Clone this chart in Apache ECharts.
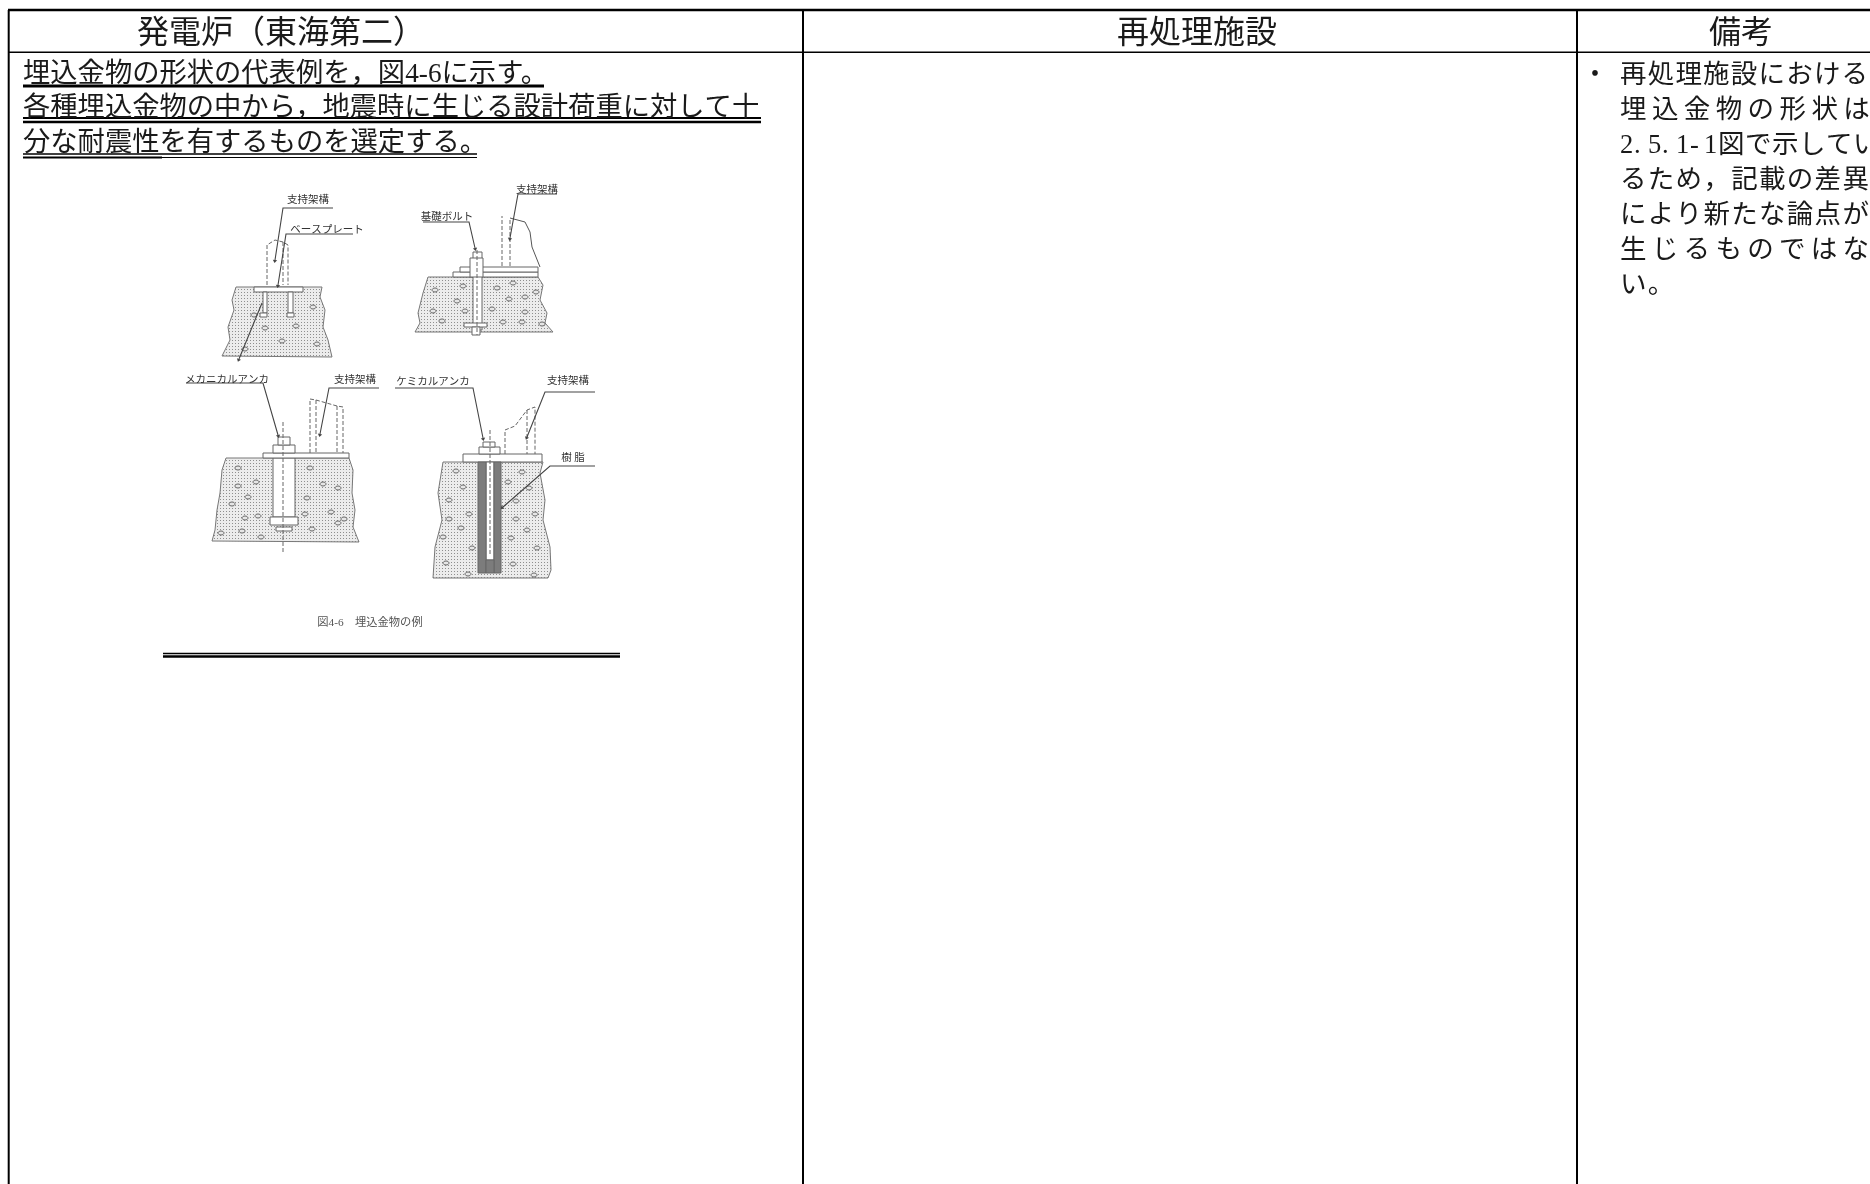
<!DOCTYPE html>
<html lang="ja">
<head>
<meta charset="utf-8">
<title>埋込金物の形状</title>
<script src="https://cdn.jsdelivr.net/npm/echarts@6/dist/echarts.min.js"></script>
<style>
html,body{margin:0;padding:0;background:#fff;overflow:hidden}
#table,#figure{position:absolute;left:0;top:0;width:1870px;height:1184px}
#figure{filter:blur(.6px);pointer-events:none}
</style>
</head>
<body>
<div id="table"></div>
<div id="figure"></div>
<script>
// ---- texts ----
const headerTexts = ['発電炉（東海第二）', '再処理施設', '備考'];
const leftLines = ['埋込金物の形状の代表例を，図4-6に示す。', '各種埋込金物の中から，地震時に生じる設計荷重に対して十', '分な耐震性を有するものを選定する。'];
const noteLines = ['再処理施設における', '埋込金物の形状は', '2.5.1-1図で示してい', 'るため，記載の差異', 'により新たな論点が', '生じるものではな', 'い。'];
const noteBullet = '・';
const figureLabels = ['支持架構', 'ベースプレート', '基礎ボルト', '支持架構', 'メカニカルアンカ', '支持架構', 'ケミカルアンカ', '支持架構', '樹 脂'];
const figureCaption = '図4-6　埋込金物の例';

// ---- text layout ----
const headerAt = [[281, 35], [1197, 35], [1741, 35]];
const leftLineAt = [[23, 75], [23, 109], [23, 144]];
const notePitch = [27.7, 31.9, 27, 27.8, 27.8, 31.8, 27.8];
const noteStartX = 1620, noteFirstY = 76, noteLineGap = 35;
const figureLabelAt = [[308, 200], [327, 230], [447, 217], [537, 190], [227, 380], [355, 380], [433, 382], [568, 381], [573, 458]];

// ---- table rules: x1, y1, x2, y2, width ----
const tableRules = [[8, 10, 1870, 10, 2.5], [8, 52.3, 1870, 52.3, 1.5], [8.7, 10, 8.7, 1184, 2], [803, 10, 803, 1184, 2], [1577, 10, 1577, 1184, 2]];
const underlines = [
  [23, 86, 544, 86, 3], [23, 118, 761, 118, 2], [23, 122, 761, 122, 2.4],
  [23, 154, 477, 154, 1.6], [23, 157.5, 162, 157.5, 2], [162, 157.5, 477, 157.5, 1],
  [163, 653.5, 620, 653.5, 1.6], [163, 656.5, 620, 656.5, 2.6]
];

// ---- figure shapes ----
const concreteOutlines = [
  [[236, 287], [322, 287], [320, 297], [325, 310], [323, 327], [328, 340], [332, 357], [222, 356], [230, 340], [228, 327], [234, 310], [232, 300]],
  [[428, 277], [538, 277], [543, 285], [540, 300], [547, 313], [545, 323], [553, 332], [415, 332], [420, 323], [418, 313], [423, 293]],
  [[226, 458], [349, 458], [353, 470], [352, 493], [355, 510], [353, 527], [359, 542], [212, 541], [215, 530], [217, 510], [220, 493], [222, 470]],
  [[443, 462], [543, 462], [540, 473], [545, 500], [543, 520], [550, 547], [551, 570], [548, 578], [433, 578], [435, 547], [442, 520], [438, 493]]
];
const whiteBoxes = [
  [254, 287, 303, 292], [263, 292, 267, 313], [288, 292, 293, 313], [260, 313, 267, 317], [287, 313, 294, 317],
  [453, 272, 538, 277], [460, 267, 538, 272], [473, 252, 482, 330], [470, 258, 483, 277], [464, 323, 487, 327], [472, 327, 480, 335],
  [273, 458, 295, 517], [270, 517, 298, 525], [276, 527, 292, 531], [263, 453, 349, 458], [273, 445, 295, 453], [278, 437, 290, 445],
  [463, 454, 542, 462], [479, 447, 500, 454], [483, 442, 495, 447], [486, 462, 494, 560]
];
const darkBoxes = [[478, 462, 486, 573], [494, 462, 501, 573], [486, 560, 494, 573]];
const leaders = [
  [[333, 208], [283, 208], [275, 260]], [[353, 234], [286, 234], [278, 285]], [[262, 303], [239, 359]],
  [[423, 222], [469, 222], [475, 248]], [[557, 194], [518, 194], [510, 238]],
  [[186, 383], [263, 383], [278, 435]], [[379, 388], [329, 388], [320, 434]],
  [[395, 388], [473, 388], [483, 438]], [[595, 392], [545, 392], [527, 437]], [[595, 466], [550, 466], [503, 507]]
];
const dashedLines = [
  [[267, 285], [267, 245], [275, 240], [283, 242], [288, 245], [288, 285]], [[283, 242], [283, 285]],
  [[502, 266], [502, 216]], [[510, 266], [510, 218]],
  [[477, 250], [477, 335]],
  [[310, 453], [310, 399], [316, 400], [337, 406], [343, 407], [343, 453]], [[316, 400], [316, 453]], [[337, 406], [337, 453]],
  [[283, 422], [283, 553]],
  [[505, 454], [505, 430], [515, 426], [527, 410], [535, 407], [535, 454]], [[527, 410], [527, 454]],
  [[490, 430], [490, 555]]
];
const breakLines = [[[510, 218], [525, 222], [530, 232], [532, 247], [540, 267]]];
const aggregates = [
  [254, 315], [313, 307], [296, 326], [265, 328], [282, 341], [317, 344], [245, 349],
  [435, 290], [463, 286], [497, 288], [513, 283], [536, 292], [525, 297], [509, 299], [457, 301], [433, 311], [465, 311], [492, 309], [525, 312], [442, 321], [503, 322], [522, 322], [542, 324],
  [238, 468], [310, 468], [256, 482], [238, 486], [323, 484], [338, 488], [248, 497], [307, 498], [232, 504], [258, 516], [245, 518], [305, 514], [331, 512], [338, 523], [344, 519], [221, 533], [242, 531], [261, 537], [312, 529],
  [456, 471], [522, 472], [463, 487], [508, 482], [529, 488], [449, 500], [516, 501], [469, 514], [449, 519], [516, 519], [535, 514], [461, 528], [527, 530], [443, 537], [511, 538], [472, 548], [537, 548], [446, 563], [513, 564], [468, 574], [534, 575]
];

// ---- style ----
const FONT = '"Liberation Serif","Noto Sans CJK JP",serif';
const stipple = document.createElement('canvas');
stipple.width = stipple.height = 3;
(function () {
  const c = stipple.getContext('2d');
  c.fillStyle = '#ececec'; c.fillRect(0, 0, 3, 3);
  c.fillStyle = '#8e8e8e'; c.fillRect(1, 1, 1, 1);
})();

const axes = {
  grid: { left: 0, right: 0, top: 0, bottom: 0 },
  xAxis: { type: 'value', min: 0, max: 1870, show: false },
  yAxis: { type: 'value', min: 0, max: 1184, inverse: true, show: false }
};
const ruleSeries = (data, color) => ({
  type: 'custom', silent: true, animation: false, coordinateSystem: 'cartesian2d', clip: false,
  data: data,
  encode: { x: [0, 2], y: [1, 3] },
  renderItem: function (p, api) {
    const a = api.coord([api.value(0), api.value(1)]), b = api.coord([api.value(2), api.value(3)]);
    return { type: 'line', shape: { x1: a[0], y1: a[1], x2: b[0], y2: b[1] }, style: { stroke: color, lineWidth: api.value(4) } };
  }
});
const textSeries = (rows) => ({
  type: 'custom', silent: true, animation: false, coordinateSystem: 'cartesian2d', clip: false,
  data: rows.map(r => ({ value: [r.x, r.y] })),
  renderItem: function (p, api) {
    const r = rows[p.dataIndex], c = api.coord([r.x, r.y]);
    return { type: 'text', x: c[0], y: c[1], style: { text: r.text, fill: r.fill || '#1a1a1a', font: (r.size) + 'px ' + FONT, textAlign: r.align || 'left', textVerticalAlign: 'middle' } };
  }
});

// main table
const textRows = [];
headerTexts.forEach((t, i) => textRows.push({ x: headerAt[i][0], y: headerAt[i][1], text: t, size: 32, align: 'center' }));
leftLines.forEach((t, i) => textRows.push({ x: leftLineAt[i][0], y: leftLineAt[i][1], text: t, size: 27.3 }));
textRows.push({ x: 1595, y: noteFirstY, text: noteBullet, size: 27, align: 'center' });
noteLines.forEach((line, i) => {
  let x = noteStartX;
  Array.from(line).forEach(ch => {
    textRows.push({ x: x, y: noteFirstY + i * noteLineGap, text: ch, size: 26.5 });
    x += ch.charCodeAt(0) < 128 ? 14 : notePitch[i];
  });
});
echarts.init(document.getElementById('table')).setOption(Object.assign({
  backgroundColor: '#fff', animation: false,
  series: [ruleSeries(tableRules, '#000'), ruleSeries(underlines, '#000'), textSeries(textRows)]
}, axes));

// scanned figure
const polyItem = (pts, api, style, type) => ({ type: type || 'polygon', shape: { points: pts.map(q => api.coord(q)) }, style: style });
const boxPts = b => [[b[0], b[1]], [b[2], b[1]], [b[2], b[3]], [b[0], b[3]]];
const shapeSeries = (data, make) => ({
  type: 'custom', silent: true, animation: false, coordinateSystem: 'cartesian2d', clip: false,
  data: data.map((d, i) => [i]),
  renderItem: (p, api) => make(data[p.dataIndex], api)
});
const figLabelRows = figureLabels.map((t, i) => ({ x: figureLabelAt[i][0], y: figureLabelAt[i][1], text: t, size: 10.5, align: 'center', fill: '#333' }));
figLabelRows.push({ x: 370, y: 623, text: figureCaption, size: 11.3, align: 'center', fill: '#555' });
echarts.init(document.getElementById('figure')).setOption(Object.assign({
  animation: false,
  series: [
    shapeSeries(concreteOutlines, (o, api) => polyItem(o, api, { fill: { image: stipple, repeat: 'repeat' }, stroke: '#777', lineWidth: 1 })),
    shapeSeries(aggregates, (a, api) => { const c = api.coord(a); return { type: 'ellipse', shape: { cx: c[0], cy: c[1], rx: 3, ry: 2 }, style: { fill: '#e6e6e6', stroke: '#666', lineWidth: 1 } }; }),
    shapeSeries(whiteBoxes, (b, api) => polyItem(boxPts(b), api, { fill: '#fff', stroke: '#666', lineWidth: 1 })),
    shapeSeries(darkBoxes, (b, api) => polyItem(boxPts(b), api, { fill: '#7c7c7c', stroke: '#666', lineWidth: 1 })),
    shapeSeries(dashedLines, (l, api) => polyItem(l, api, { stroke: '#666', fill: 'none', lineWidth: 1, lineDash: [4, 2] }, 'polyline')),
    shapeSeries(breakLines, (l, api) => polyItem(l, api, { stroke: '#555', fill: 'none', lineWidth: 1 }, 'polyline')),
    shapeSeries(leaders, (l, api) => {
      const a = l[l.length - 2], b = l[l.length - 1];
      const n = Math.hypot(b[0] - a[0], b[1] - a[1]), ux = (b[0] - a[0]) / n, uy = (b[1] - a[1]) / n;
      const head = [[b[0] + ux * 3, b[1] + uy * 3], [b[0] - uy * 2.2, b[1] + ux * 2.2], [b[0] + uy * 2.2, b[1] - ux * 2.2]];
      return { type: 'group', children: [
        polyItem(l, api, { stroke: '#444', fill: 'none', lineWidth: 1.1 }, 'polyline'),
        polyItem(head, api, { fill: '#444' })
      ] };
    }),
    textSeries(figLabelRows)
  ]
}, axes));
</script>
</body>
</html>
